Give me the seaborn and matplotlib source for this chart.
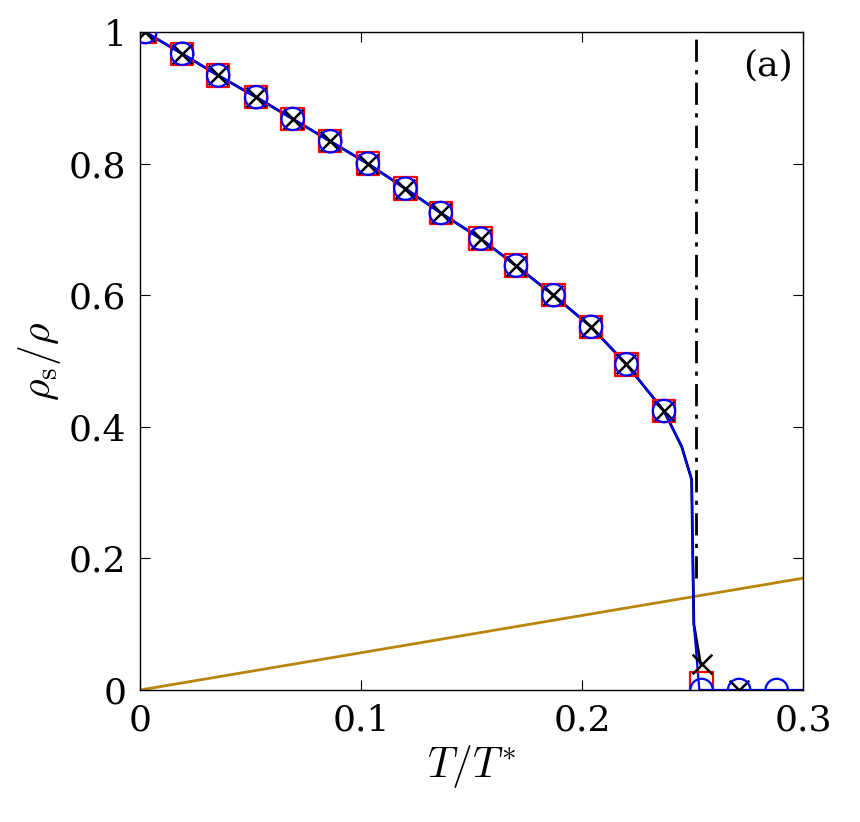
import matplotlib
matplotlib.use("Agg")
import matplotlib.pyplot as plt
import seaborn as sns
import pandas as pd

plt.rcParams["mathtext.fontset"] = "cm"
plt.rcParams["font.family"] = "serif"
plt.rcParams["font.serif"] = ["DejaVu Serif"]

T_pts = [0.0023, 0.019, 0.0353, 0.0525, 0.069, 0.086, 0.103, 0.12, 0.136, 0.154, 0.170, 0.187, 0.204, 0.220, 0.237]
rho_pts = [1.0, 0.967, 0.934, 0.901, 0.868, 0.834, 0.800, 0.762, 0.725, 0.686, 0.645, 0.600, 0.552, 0.495, 0.424]
T_sq = T_pts + [0.254]
rho_sq = rho_pts + [0.010]
T_x = T_pts + [0.254, 0.271]
rho_x = rho_pts + [0.040, 0.0]
T_o = T_pts + [0.254, 0.271, 0.288]
rho_o = rho_pts + [0.0, 0.0, 0.0]

T_line = [0.0, 0.0023, 0.019, 0.0353, 0.0525, 0.069, 0.086, 0.103, 0.12, 0.136, 0.154, 0.170, 0.187, 0.204, 0.220, 0.237, 0.245, 0.2495, 0.2505, 0.253, 0.26, 0.3]
rho_line = [1.0, 1.0, 0.967, 0.934, 0.901, 0.868, 0.834, 0.800, 0.762, 0.725, 0.686, 0.645, 0.600, 0.552, 0.495, 0.424, 0.37, 0.32, 0.1, 0.0, 0.0, 0.0]
T_black = T_line[:19] + [0.2535, 0.254]
rho_black = rho_line[:19] + [0.04, 0.04]
T_c = 0.2515
T_gold = [0.0, 0.3]
rho_gold = [0.0, 0.17]

fig = plt.figure(figsize=(8.6, 8.22), dpi=100)
ax = fig.add_axes([0.163, 0.1606, 0.771, 0.8004])

sns.lineplot(x=T_gold, y=rho_gold, color="#b8860b", lw=2, ax=ax)
sns.lineplot(x=T_black, y=rho_black, color="black", lw=2, ax=ax, sort=False)
sns.lineplot(x=T_line, y=rho_line, color="blue", lw=1.6, ax=ax, sort=False)
ax.plot([T_c, T_c], [0.17, 1.0], color="black", lw=2, ls=(0, (8, 3, 1.5, 3)))
sns.scatterplot(x=T_sq, y=rho_sq, marker="s", s=260, facecolor="none", edgecolor="red", linewidth=1.6, ax=ax, zorder=5)
sns.scatterplot(x=T_x, y=rho_x, marker="x", s=200, color="black", linewidth=1.8, ax=ax, zorder=6)
sns.scatterplot(x=T_o, y=rho_o, marker="o", s=260, facecolor="none", edgecolor="blue", linewidth=1.6, ax=ax, zorder=7)

ax.set_xlim(0, 0.3)
ax.set_ylim(0, 1)
ax.set_xticks([0, 0.1, 0.2, 0.3])
ax.set_xticklabels(["0", "0.1", "0.2", "0.3"])
ax.set_yticks([0, 0.2, 0.4, 0.6, 0.8, 1])
ax.set_yticklabels(["0", "0.2", "0.4", "0.6", "0.8", "1"])
ax.tick_params(direction="in", top=True, right=True, length=7, labelsize=26, pad=10)
for lab in ax.get_xticklabels() + ax.get_yticklabels():
    lab.set_fontfamily("serif")
ax.set_xlabel(r"$T/T^{*}$", fontsize=30)
ax.set_ylabel(r"$\rho_{\rm s}/\rho$", fontsize=30)
ax.text(0.985, 0.975, "(a)", transform=ax.transAxes, ha="right", va="top", fontsize=26)
for s in ax.spines.values():
    s.set_linewidth(1.0)
fig.savefig("out.png", dpi=100)
